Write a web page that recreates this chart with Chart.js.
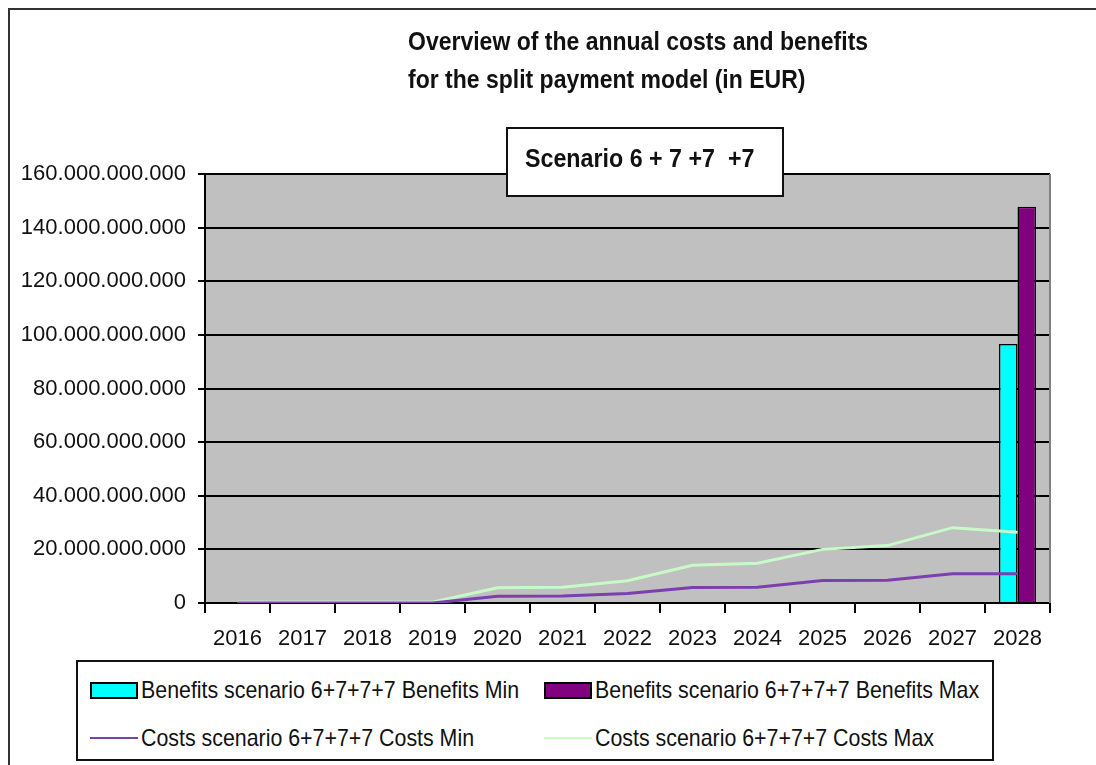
<!DOCTYPE html>
<html>
<head>
<meta charset="utf-8">
<script src="https://cdn.jsdelivr.net/npm/chart.js@4.4.1/dist/chart.umd.min.js"></script>
<style>
  html, body { margin:0; padding:0; background:#fff; }
  #wrap { position:relative; width:1096px; height:765px; overflow:hidden; background:#fff;
          font-family:"Liberation Sans",Arial,sans-serif; }
  #frame { position:absolute; left:8px; top:8px; width:1200px; height:900px;
           border-left:2px solid #333; border-top:2px solid #333; }
  canvas { position:absolute; left:0; top:0; }
  #title { position:absolute; left:408px; top:22px; font-weight:bold; font-size:25px; line-height:38px; color:#111;
           white-space:nowrap; transform:scaleX(0.92); transform-origin:0 0; }
  #scenario { position:absolute; left:506px; top:127px; width:274px; height:66px; border:2px solid #111; background:#fff;
              font-weight:bold; font-size:25px; line-height:64px; color:#111; white-space:pre; box-sizing:content-box; }
  #scenario span { position:absolute; left:17px; top:-3px; transform:scaleX(0.93); transform-origin:0 0; }
  #legend { position:absolute; left:76px; top:660px; width:914px; height:97px; border:2px solid #111; background:#fff; }
  .item { position:absolute; display:flex; align-items:center; font-size:24px; color:#111; white-space:nowrap; height:30px; }
  .item span { display:inline-block; transform:scaleX(0.89); transform-origin:0 50%; }
  .sw { width:44px; height:13px; border:2px solid #000; margin-right:3px; flex:none; }
  .ln { width:48px; height:0; border-top:2px solid; margin-right:3px; flex:none; }
</style>
</head>
<body>
<div id="wrap">
  <div id="frame"></div>
  <canvas id="c" width="1096" height="765"></canvas>
  <div id="title">Overview of the annual costs and benefits<br>for the split payment model (in EUR)</div>
  <div id="scenario"><span>Scenario 6 + 7 +7  +7</span></div>
  <div id="legend"></div>
</div>
<script>
const years = ["2016","2017","2018","2019","2020","2021","2022","2023","2024","2025","2026","2027","2028"];
const benefitsMin = [0,0,0,0,0,0,0,0,0,0,0,0,96600000000];
const benefitsMax = [0,0,0,0,0,0,0,0,0,0,0,0,147800000000];
const costsMin = [0,0,0,0,2500000000,2600000000,3500000000,5800000000,5900000000,8400000000,8500000000,10900000000,10900000000];
const costsMax = [300000000,300000000,300000000,300000000,5700000000,5900000000,8300000000,14100000000,14800000000,20000000000,21400000000,28100000000,26400000000];
const yTicks = [0,20000000000,40000000000,60000000000,80000000000,100000000000,120000000000,140000000000,160000000000];
const seriesNames = ["Benefits scenario 6+7+7+7 Benefits Min","Benefits scenario 6+7+7+7 Benefits Max","Costs scenario 6+7+7+7 Costs Min","Costs scenario 6+7+7+7 Costs Max"];

const FONT = '"Liberation Sans",Arial,sans-serif';
function fmt(v){ return String(Math.round(v)).replace(/\B(?=(\d{3})+(?!\d))/g,'.'); }

const bgPlugin = {
  id:'bg',
  beforeDraw(chart){
    const {ctx, chartArea:a} = chart;
    ctx.save();
    ctx.fillStyle = '#C0C0C0';
    ctx.fillRect(a.left, a.top, a.right-a.left, a.bottom-a.top);
    ctx.restore();
  },
  afterDraw(chart){
    const {ctx, chartArea:a} = chart;
    ctx.save();
    ctx.strokeStyle = '#808080';
    ctx.lineWidth = 2;
    ctx.beginPath();
    ctx.moveTo(a.right, a.top);
    ctx.lineTo(a.right, a.bottom);
    ctx.stroke();
    ctx.restore();
  }
};

const chart = new Chart(document.getElementById('c'), {
  type:'bar',
  data:{
    labels: years,
    datasets:[
      { type:'line', label:seriesNames[2], data:costsMin, borderColor:'#7B3FB0', borderWidth:3, pointRadius:0, tension:0, order:0 },
      { type:'line', label:seriesNames[3], data:costsMax, borderColor:'#C8FAC8', borderWidth:3, pointRadius:0, tension:0, order:0 },
      { label:seriesNames[0], data:benefitsMin, backgroundColor:'#00FFFF', borderColor:'#000', borderWidth:1.5, categoryPercentage:0.57, barPercentage:1, order:1 },
      { label:seriesNames[1], data:benefitsMax, backgroundColor:'#800080', borderColor:'#000', borderWidth:1.5, categoryPercentage:0.57, barPercentage:1, order:1 }
    ]
  },
  options:{
    responsive:false,
    devicePixelRatio:1,
    animation:false,
    layout:{ padding:{ top:174, right:46, bottom:0, left:0 } },
    plugins:{ legend:{display:false}, title:{display:false}, tooltip:{enabled:false} },
    scales:{
      x:{
        offset:true,
        grid:{ drawOnChartArea:false, drawTicks:true, tickLength:10, color:'#000', lineWidth:2, offset:true },
        border:{ display:true, color:'#000', width:2 },
        ticks:{ color:'#111', font:{ family:FONT, size:22 }, padding:13, maxRotation:0, autoSkip:false },
        afterFit(s){ s.height = 162; }
      },
      y:{
        min:0, max:160000000000,
        afterBuildTicks(s){ s.ticks = yTicks.map(v=>({value:v})); },
        grid:{ color:'#000', lineWidth:2, tickLength:7, drawTicks:true },
        border:{ display:true, color:'#000', width:2 },
        ticks:{ color:'#111', font:{ family:FONT, size:22 }, padding:12, callback:(v)=>fmt(v) },
        afterFit(s){ s.width = 205; }
      }
    }
  },
  plugins:[bgPlugin]
});

// HTML legend built from the chart datasets
const legend = document.getElementById('legend');
const pos = [[12,13],[466,13],[12,61],[466,61]];
const dsOrder = [2,3,0,1];
seriesNames.forEach((name,i)=>{
  const ds = chart.data.datasets[dsOrder[i]];
  const it = document.createElement('div');
  it.className='item';
  it.style.left = pos[i][0]+'px';
  it.style.top = pos[i][1]+'px';
  const sw = document.createElement('div');
  if (ds.type === 'line') { sw.className='ln'; sw.style.borderTopColor = ds.borderColor; }
  else { sw.className='sw'; sw.style.background = ds.backgroundColor; }
  const tx = document.createElement('span');
  tx.textContent = name;
  it.appendChild(sw); it.appendChild(tx);
  legend.appendChild(it);
});
</script>
</body>
</html>
